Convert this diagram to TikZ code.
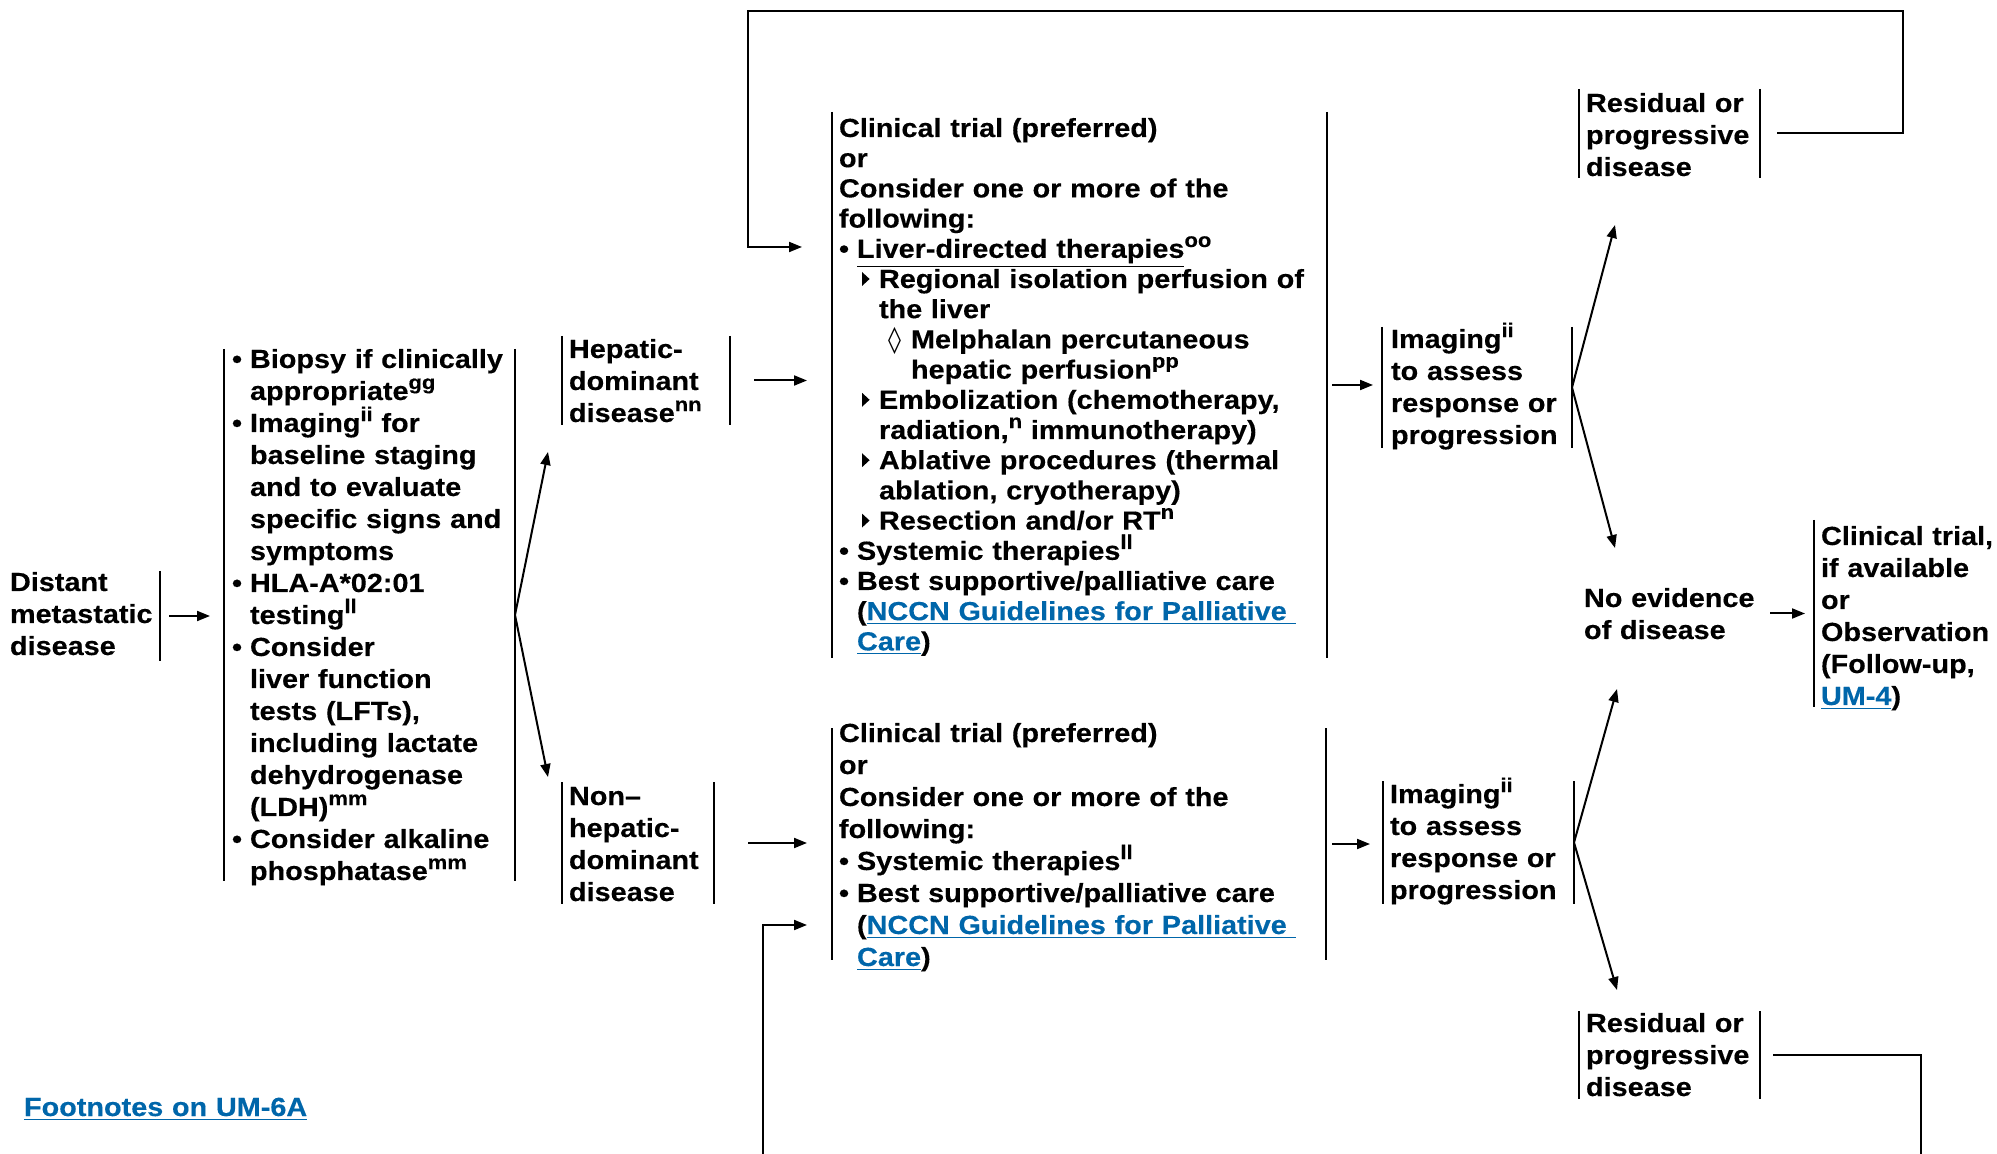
\documentclass[tikz,border=0pt]{standalone}
\usepackage{fontspec}
\newfontfamily\af{Liberation Sans}[FakeStretch=1.1, BoldFeatures={FakeBold=0.3}]
\newfontfamily\dv{DejaVu Sans}
\usetikzlibrary{arrows.meta,fit}
\definecolor{linkblue}{RGB}{0,102,170}
\newcommand\bl{\makebox[9pt][l]{\textbullet}}
\newcommand\ind{\hspace*{9pt}}
\newcommand\tri{\makebox[8.5pt][l]{\tikz[baseline=0pt]\fill (0,1pt)--(0,8pt)--(3.8pt,4.5pt)--cycle;}}
\newcommand\loz{\makebox[11.5pt][l]{{\dv\mdseries ◊}}}
\newcommand\sups[1]{\raisebox{5.4pt}{\fontsize{10pt}{10pt}\selectfont #1}}
\newcommand\lnk[1]{\textcolor{linkblue}{\underline{#1}}}
\newcommand\frm[5]{\path (#2,#4) coordinate (#1-a) (#3,#5) coordinate (#1-b);
  \node[frame, fit=(#1-a)(#1-b)] (#1) {};}
\tikzset{
  frame/.style={inner sep=0pt, outer sep=0pt, draw=none, rectangle},
  bar/.style={line width=1.3pt},
  arr/.style={line width=1pt, -{Triangle[length=6.5pt,width=5pt]}},
  conn/.style={line width=1pt},
  txt/.style={anchor=base west, inner sep=0pt, outer sep=0pt, text width=330pt,
    align=left, font={\af\bfseries\fontsize{13.1pt}{16pt}\selectfont}},
  midtxt/.style={txt, font={\af\bfseries\fontsize{13.1pt}{15.1pt}\selectfont}},
}
\begin{document}
\begin{tikzpicture}[x=0.5pt,y=-0.5pt]
\useasboundingbox[fill=white] (0,0) rectangle (1997,1154);

% frames
\frm{distF}{10}{160}{571}{661}
\frm{testsF}{224}{515}{349}{881}
\frm{hepF}{562}{730}{336}{425}
\frm{nonHepF}{562}{714}{782}{904}
\frm{midTopF}{832}{1327}{112}{658}
\frm{midBotF}{832}{1326}{728}{960}
\frm{imgTopF}{1382}{1572}{327}{448}
\frm{imgBotF}{1383}{1574}{781}{904}
\frm{resTopF}{1579}{1760}{89}{178}
\frm{resBotF}{1579}{1760}{1011}{1099}
\frm{noEvF}{1584}{1760}{585}{642}
\frm{finalF}{1814}{1995}{520}{707}

% bars
\draw[bar] (distF.north east) -- (distF.south east);
\foreach \f in {testsF,hepF,nonHepF,midTopF,midBotF,imgTopF,imgBotF,resTopF,resBotF}{
  \draw[bar] (\f.north west) -- (\f.south west);
  \draw[bar] (\f.north east) -- (\f.south east);
}
\draw[bar] (finalF.north west) -- (finalF.south west);

% texts
\node[txt] (dist) at (10,591) {Distant\\metastatic\\disease};
\node[txt] (tests) at (232,368) {\bl Biopsy if clinically\\
\ind appropriate\sups{gg}\\
\bl Imaging\sups{ii} for\\
\ind baseline staging\\
\ind and to evaluate\\
\ind specific signs and\\
\ind symptoms\\
\bl HLA-A*02:01\\
\ind testing\sups{ll}\\
\bl Consider\\
\ind liver function\\
\ind tests (LFTs),\\
\ind including lactate\\
\ind dehydrogenase\\
\ind (LDH)\sups{mm}\\
\bl Consider alkaline\\
\ind phosphatase\sups{mm}};
\node[txt] (hep) at (569,358) {Hepatic-\\dominant\\disease\sups{nn}};
\node[txt] (nonHep) at (569,805) {Non–\\hepatic-\\dominant\\disease};
\node[midtxt] (midTop) at (839,137) {Clinical trial (preferred)\\
or\\
Consider one or more of the\\
following:\\
\bl\underline{Liver-directed therapies}\sups{oo}\\
\hspace*{11.5pt}\tri Regional isolation perfusion of\\
\hspace*{20pt}the liver\\
\hspace*{24.5pt}\loz Melphalan percutaneous\\
\hspace*{36pt}hepatic perfusion\sups{pp}\\
\hspace*{11.5pt}\tri Embolization (chemotherapy,\\
\hspace*{20pt}radiation,\sups{n} immunotherapy)\\
\hspace*{11.5pt}\tri Ablative procedures (thermal\\
\hspace*{20pt}ablation, cryotherapy)\\
\hspace*{11.5pt}\tri Resection and/or RT\sups{n}\\
\bl Systemic therapies\sups{ll}\\
\bl Best supportive/palliative care\\
\ind(\lnk{NCCN Guidelines for Palliative\ }\\
\ind\lnk{Care})};
\node[txt] (midBot) at (839,742) {Clinical trial (preferred)\\
or\\
Consider one or more of the\\
following:\\
\bl Systemic therapies\sups{ll}\\
\bl Best supportive/palliative care\\
\ind(\lnk{NCCN Guidelines for Palliative\ }\\
\ind\lnk{Care})};
\node[txt] (imgTop) at (1391,348) {Imaging\sups{ii}\\to assess\\response or\\progression};
\node[txt] (imgBot) at (1390,803) {Imaging\sups{ii}\\to assess\\response or\\progression};
\node[txt] (resTop) at (1586,112) {Residual or\\progressive\\disease};
\node[txt] (resBot) at (1586,1032) {Residual or\\progressive\\disease};
\node[txt] (noEv) at (1584,607) {No evidence\\of disease};
\node[txt] (final) at (1821,545) {Clinical trial,\\if available\\or\\Observation\\(Follow-up,\\\lnk{UM-4})};
\node[txt] (foot) at (24,1116) {\lnk{Footnotes on UM-6A}};

% free ends
\coordinate (t1) at (548,452);
\coordinate (t2) at (548,777);
\coordinate (t3) at (1615,225);
\coordinate (t4) at (1615,548);
\coordinate (t5) at (1617,689);
\coordinate (t6) at (1617,990);
\coordinate (lt1) at (1903,11);
\coordinate (lt2) at (748,11);
\coordinate (lt3) at (802,247);
\coordinate (lb1) at (763,1154);
\coordinate (lb2) at (807,925);
\coordinate (lb3) at (1921,1154);

% connectors
\draw[arr] ([xshift=4.5pt]distF.east) -- ([xshift=-7pt]testsF.west |- distF.east);
\draw[arr] (testsF.east) -- (t1);
\draw[arr] (testsF.east) -- (t2);
\draw[arr] ([xshift=12pt]hepF.east) -- ([xshift=-12.5pt]midTopF.west |- hepF.east);
\draw[arr] ([xshift=17pt]nonHepF.east) -- ([xshift=-12.5pt]midBotF.west |- nonHepF.east);
\draw[arr] ([xshift=2.5pt]midTopF.east) -- ([xshift=-4.5pt]imgTopF.west |- midTopF.east);
\draw[arr] ([xshift=3pt]midBotF.east) -- ([xshift=-6.5pt]imgBotF.west |- midBotF.east);
\draw[arr] (imgTopF.east) -- (t3);
\draw[arr] (imgTopF.east) -- (t4);
\draw[arr] (imgBotF.east) -- (t5);
\draw[arr] (imgBotF.east) -- (t6);
\draw[arr] ([xshift=5pt]noEvF.east) -- ([xshift=-4.5pt]finalF.west |- noEvF.east);
\draw[arr] ([xshift=8.5pt]resTopF.east) -| (lt1) -- (lt2) |- (lt3);
\draw[arr] (lb1) |- (lb2);
\draw[conn] ([xshift=6.5pt]resBotF.east) -| (lb3);
\end{tikzpicture}
\end{document}
